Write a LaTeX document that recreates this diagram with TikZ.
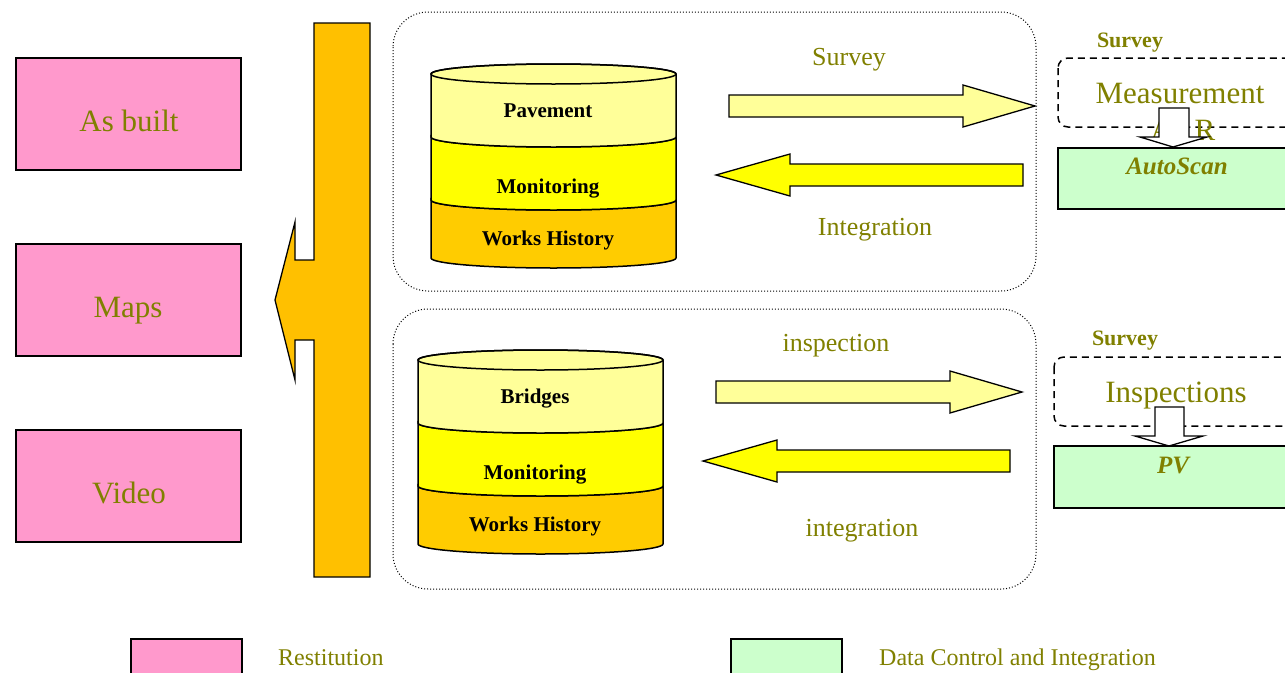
\documentclass[tikz,border=0pt]{standalone}
\usepackage{fontspec}
\setmainfont{Liberation Serif}
\definecolor{olivetxt}{HTML}{808000}
\definecolor{pinkbox}{HTML}{FF99CC}
\definecolor{greenbox}{HTML}{CCFFCC}
\definecolor{barorange}{HTML}{FFC000}
\definecolor{cyltop}{HTML}{FFFF99}
\definecolor{cylmid}{HTML}{FFFF00}
\definecolor{cylbot}{HTML}{FFCC00}
\tikzset{
  fs/.style={font=\fontsize{#1}{#1}\selectfont},
  fsb/.style={font=\fontsize{#1}{#1}\selectfont\bfseries},
  fsbi/.style={font=\fontsize{#1}{#1}\selectfont\bfseries\itshape},
  pinkrect/.style={draw=black,line width=2pt,fill=pinkbox},
  greenrect/.style={draw=black,line width=1.6pt,fill=greenbox},
  dotbox/.style={draw=black,line width=1pt,dash pattern=on 1pt off 2pt,rounded corners=35pt},
  dashbox/.style={draw=black,line width=1.5pt,dash pattern=on 7pt off 5pt,rounded corners=10pt},
  blockarrow/.style={draw=black,line width=1.3pt,line join=miter},
  cylline/.style={draw=black,line width=1.5pt},
  oltext/.style={text=olivetxt,inner sep=0pt,anchor=base},
  cyltext/.style={text=black,inner sep=0pt,anchor=base,font=\fontsize{21}{21}\selectfont\bfseries},
}
\newcommand{\drawcyl}[3]{%
  \filldraw[cylline,fill=cylbot] (431,200) arc[start angle=180,end angle=0,x radius=122.5,y radius=10] -- (676,258) arc[start angle=0,end angle=180,x radius=122.5,y radius=10] -- cycle;
  \filldraw[cylline,fill=cylmid] (431,137) arc[start angle=180,end angle=0,x radius=122.5,y radius=10] -- (676,200) arc[start angle=0,end angle=180,x radius=122.5,y radius=10] -- cycle;
  \filldraw[cylline,fill=cyltop] (431,74) arc[start angle=180,end angle=360,x radius=122.5,y radius=10] -- (676,137) arc[start angle=0,end angle=180,x radius=122.5,y radius=10] -- cycle;
  \draw[cylline] (553.5,74) ellipse[x radius=122.5,y radius=10];
  \node[cyltext] (#1a) at (548,117) {#2};
  \node[cyltext] (#1b) at (548,193) {Monitoring};
  \node[cyltext] (#1c) at (548,245) {Works History};
}
\begin{document}
\begin{tikzpicture}[x=1pt,y=-1pt]
\useasboundingbox (0,0) rectangle (1285,672);
\clip (0,0) rectangle (1285,672);
% left boxes
\filldraw[pinkrect] (16,58) rectangle (241,170);
\filldraw[pinkrect] (16,244) rectangle (241,356);
\filldraw[pinkrect] (16,430) rectangle (241,542);
\node[oltext,fs=31] (asbuilt) at (129,131) {As built};
\node[oltext,fs=31] (maps) at (128,317) {Maps};
\node[oltext,fs=31] (video) at (129,503) {Video};
% orange bar with arrow
\filldraw[blockarrow,fill=barorange] (314,23) -- (370,23) -- (370,577) -- (314,577) -- (314,340) -- (295,340) -- (295,380) -- (275,300) -- (295,222) -- (295,260) -- (314,260) -- cycle;
% dotted containers
\draw[dotbox] (393,12) rectangle (1036,291);
\draw[dotbox] (393,309) rectangle (1036,589);
% cylinders
\drawcyl{pav}{Pavement}{}
\begin{scope}[shift={(-13,286)}]
\drawcyl{bri}{Bridges}{}
\end{scope}
% arrows top
\filldraw[blockarrow,fill=cyltop] (729,95) -- (963,95) -- (963,85) -- (1035,106) -- (963,127) -- (963,117) -- (729,117) -- cycle;
\filldraw[blockarrow,fill=cylmid] (1023,164) -- (790,164) -- (790,154) -- (716,175) -- (790,196) -- (790,186) -- (1023,186) -- cycle;
\begin{scope}[shift={(-13,286)}]
\filldraw[blockarrow,fill=cyltop] (729,95) -- (963,95) -- (963,85) -- (1035,106) -- (963,127) -- (963,117) -- (729,117) -- cycle;
\filldraw[blockarrow,fill=cylmid] (1023,164) -- (790,164) -- (790,154) -- (716,175) -- (790,196) -- (790,186) -- (1023,186) -- cycle;
\end{scope}
\node[oltext,fs=26] (survey1) at (849,65) {Survey};
\node[oltext,fs=26] (integ1) at (875,235) {Integration};
\node[oltext,fs=26] (insp1) at (836,351) {inspection};
\node[oltext,fs=26] (integ2) at (862,536) {integration};
% right side top
\node[oltext,fsb=22] (survey2) at (1130,47) {Survey};
\draw[dashbox] (1058,58) rectangle (1320,127);
\node[oltext,fs=31] (meas) at (1180,103) {Measurement};
\node[oltext,fs=31,anchor=base west] (ar) at (1150,140) {A\kern 22pt R};
\filldraw[blockarrow,fill=white] (1159,108) -- (1189,108) -- (1189,137) -- (1207,137) -- (1173,147) -- (1140,137) -- (1159,137) -- cycle;
\filldraw[greenrect] (1058,148) rectangle (1320,209);
\node[oltext,fsbi=25] (autoscan) at (1177,174) {AutoScan};
% right side bottom
\node[oltext,fsb=22] (survey3) at (1125,345) {Survey};
\draw[dashbox] (1054,357) rectangle (1320,426);
\node[oltext,fs=31] (insps) at (1176,402) {Inspections};
\filldraw[blockarrow,fill=white] (1155,407) -- (1184,407) -- (1184,436) -- (1203,436) -- (1169,446) -- (1135,436) -- (1155,436) -- cycle;
\filldraw[greenrect] (1054,446) rectangle (1320,508);
\node[oltext,fsbi=25] (pv) at (1173,473) {PV};
% legend
\filldraw[pinkrect] (131,639) rectangle (242,700);
\node[oltext,fs=24,anchor=base west] (lrest) at (278,665) {Restitution};
\filldraw[greenrect,line width=2pt] (731,639) rectangle (842,700);
\node[oltext,fs=24,anchor=base west] (ldata) at (879,665) {Data Control and Integration};
\end{tikzpicture}
\end{document}
